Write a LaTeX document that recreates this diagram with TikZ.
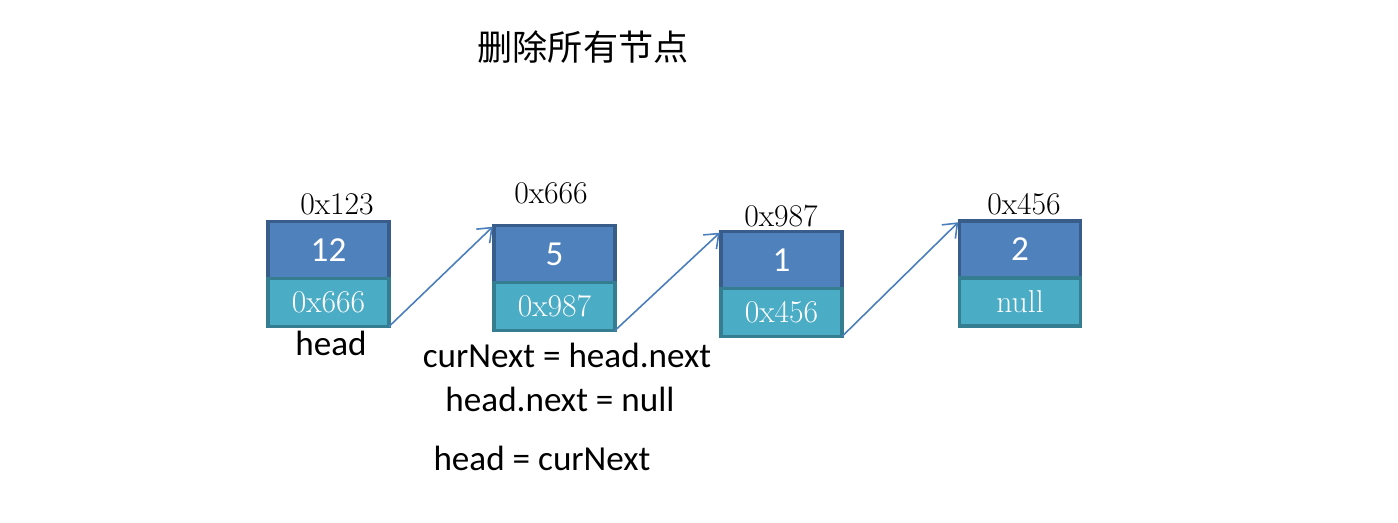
\documentclass[tikz,border=0pt]{standalone}
\usepackage{fontspec}
\usepackage{xcolor}
\usepackage{tikz}
\usetikzlibrary{arrows.meta, positioning}
\newfontfamily\cjk{Noto Sans CJK SC}
\newfontfamily\calib{Carlito}
\definecolor{datafill}{HTML}{4F81BD}
\definecolor{dataline}{HTML}{385D8A}
\definecolor{nextfill}{HTML}{4BACC6}
\definecolor{nextline}{HTML}{357D91}
\definecolor{linkcol}{HTML}{4A7EBB}
\tikzstyle{datapart} = [rectangle, minimum width=2.42cm, minimum height=1.14cm, inner sep=0pt, outer sep=0pt, fill=datafill, draw=dataline, line width=2pt, text=white, font=\calib\fontsize{20}{24}\selectfont]
\tikzstyle{nextpart} = [rectangle, minimum width=2.42cm, minimum height=0.96cm, inner sep=0pt, outer sep=0pt, fill=nextfill, draw=nextline, line width=2pt, text=white, font=\fontsize{18}{21}\selectfont]
\tikzstyle{addr} = [anchor=base, inner sep=0pt, font=\fontsize{18}{21}\selectfont]
\tikzstyle{codetext} = [anchor=base, inner sep=0pt, font=\calib\fontsize{20}{24}\selectfont]
\tikzstyle{link} = [line width=0.9pt, -{Straight Barb[length=7pt, width=11pt]}, linkcol, shorten >=1pt]

\begin{document}
\begin{tikzpicture}[x=0.02cm, y=-0.02cm]
    \useasboundingbox (0,0) rectangle (1398,522);

    % Title
    \node (title) [anchor=base, inner sep=0pt, font=\cjk\fontsize{20}{24}\selectfont] at (583,60) {删除所有节点};

    % List nodes
    \node (data1) [datapart] at (328.5,250) {12};
    \node (next1) [nextpart, below=0pt of data1] {0x666};
    \node (data2) [datapart] at (554.5,254) {5};
    \node (next2) [nextpart, below=0pt of data2] {0x987};
    \node (data3) [datapart] at (781.5,260) {1};
    \node (next3) [nextpart, below=0pt of data3] {0x456};
    \node (data4) [datapart] at (1020,249.5) {2};
    \node (next4) [nextpart, below=0pt of data4] {null};

    % Addresses
    \node (addr1) [addr] at (337,214) {0x123};
    \node (addr2) [addr] at (551,203) {0x666};
    \node (addr3) [addr] at (781,226) {0x987};
    \node (addr4) [addr] at (1024,214) {0x456};

    % Links
    \draw [link] (next1.south east) -- (data2.north west);
    \draw [link] (next2.south east) -- (data3.north west);
    \draw [link] (next3.south east) -- (data4.north west);

    % Code
    \node (head) [codetext] at (331,355) {head};
    \node (step1) [codetext] at (567,367) {curNext = head.next};
    \node (step2) [codetext] at (560,411) {head.next = null};
    \node (step3) [codetext] at (542,470) {head = curNext};

\end{tikzpicture}
\end{document}
